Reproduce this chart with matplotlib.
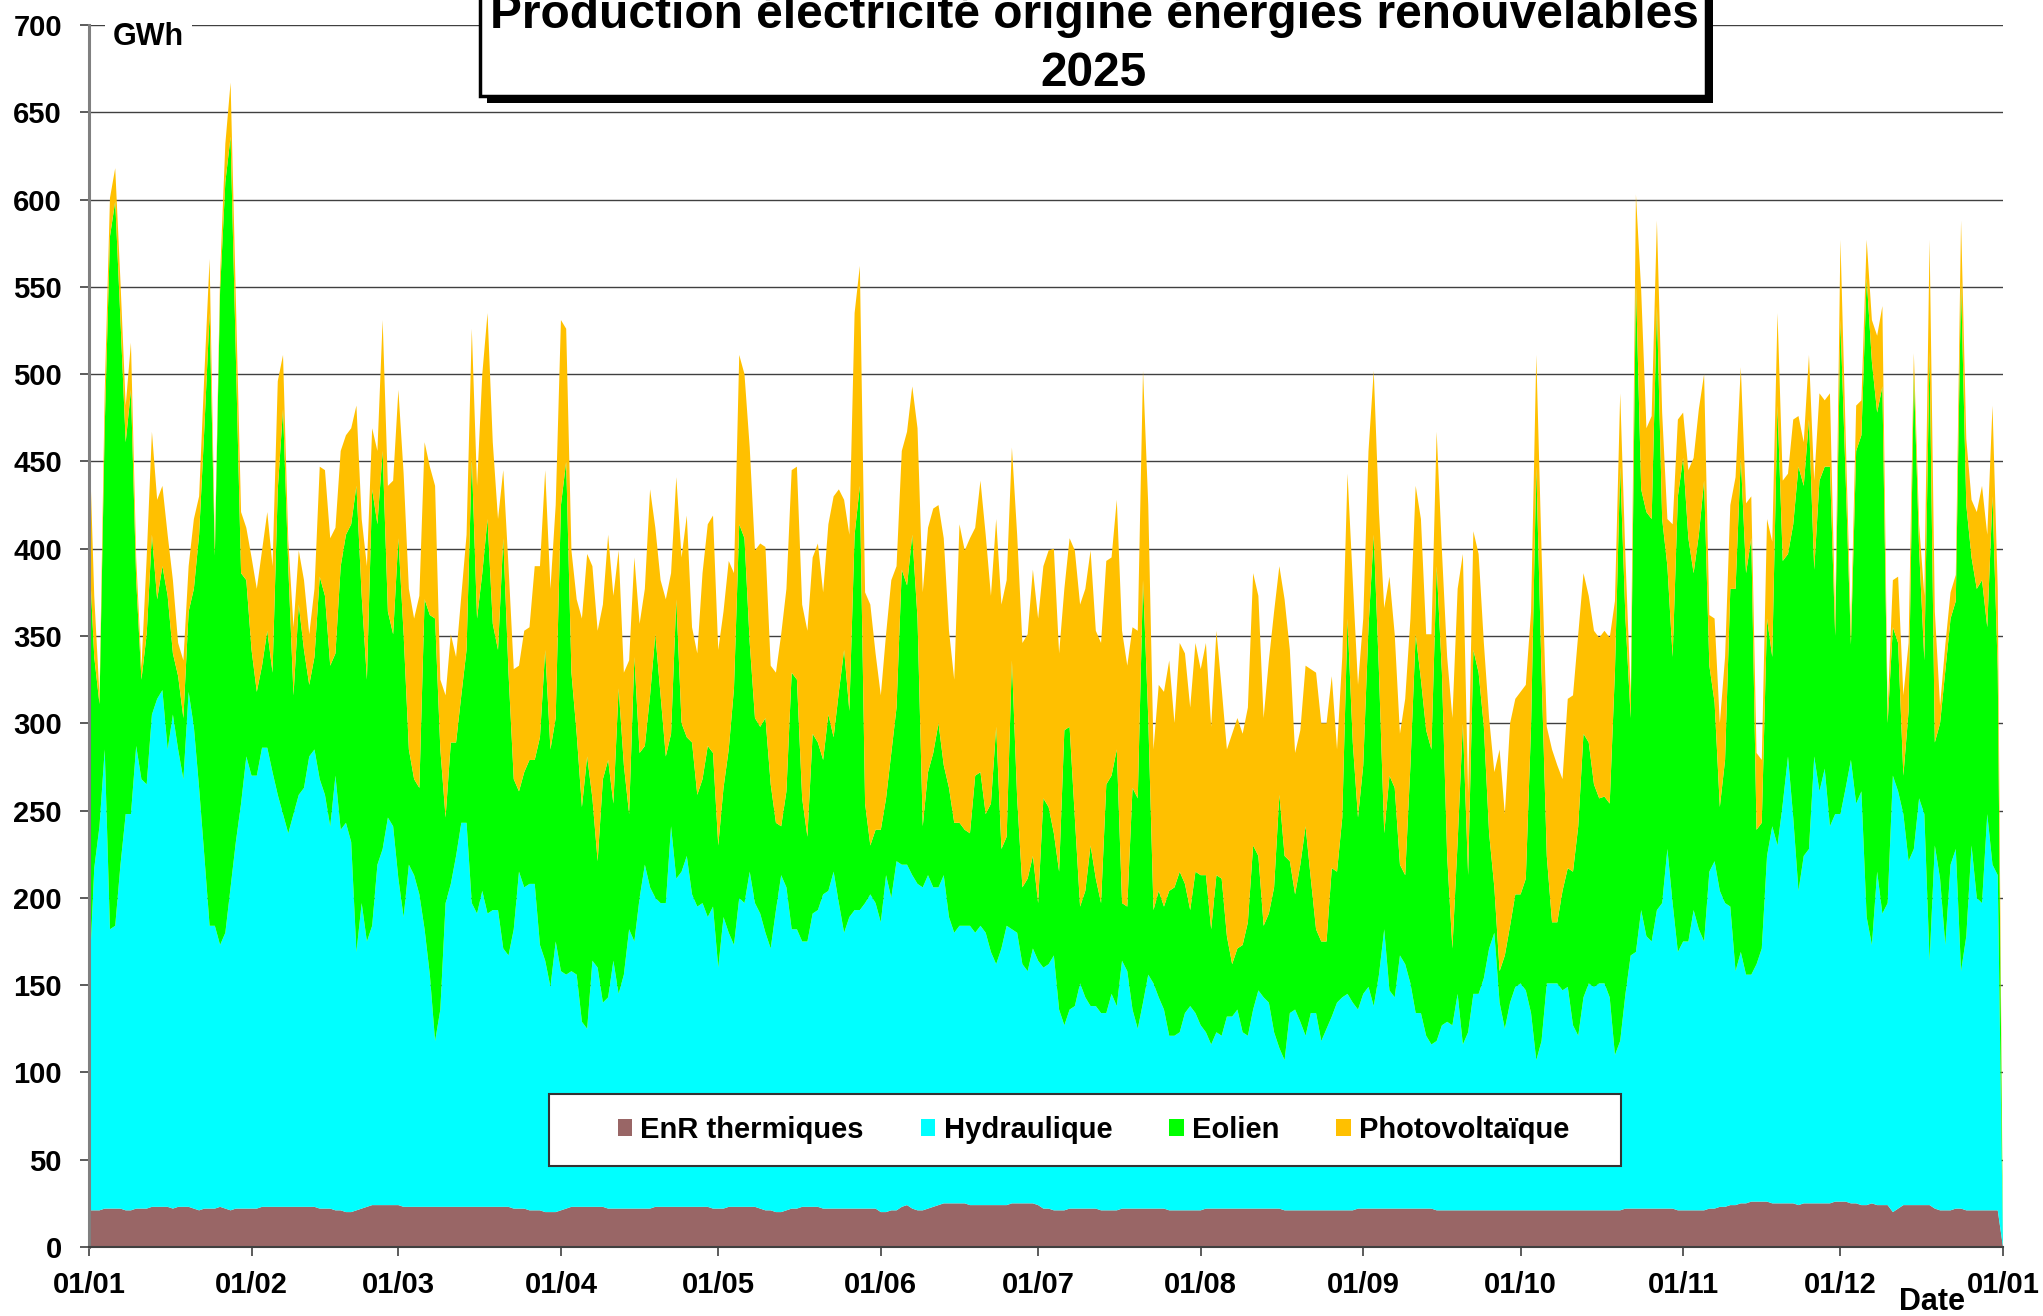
import numpy as np
import matplotlib.pyplot as plt
from matplotlib.patches import Rectangle, Patch

plt.rcParams['font.family'] = ['Liberation Sans', 'DejaVu Sans']
plt.rcParams['font.weight'] = 'bold'

# Valeurs journalières 2025 (GWh), une ligne par mois.
thermique = [
    21, 21, 21, 22, 22, 22, 22, 21, 21, 22, 22, 22, 23, 23, 23, 23, 22, 23, 23, 23, 22, 21, 22, 22, 22, 23, 22, 21, 22, 22, 22,
    22, 22, 23, 23, 23, 23, 23, 23, 23, 23, 23, 23, 23, 22, 22, 22, 21, 21, 20, 20, 21, 22, 23, 24, 24, 24, 24, 24,
    24, 23, 23, 23, 23, 23, 23, 23, 23, 23, 23, 23, 23, 23, 23, 23, 23, 23, 23, 23, 23, 23, 22, 22, 22, 21, 21, 21, 20, 20, 20,
    21, 22, 23, 23, 23, 23, 23, 23, 23, 22, 22, 22, 22, 22, 22, 22, 22, 22, 23, 23, 23, 23, 23, 23, 23, 23, 23, 23, 23, 22,
    22, 22, 23, 23, 23, 23, 23, 23, 22, 21, 21, 20, 20, 21, 22, 22, 23, 23, 23, 23, 22, 22, 22, 22, 22, 22, 22, 22, 22, 22, 22,
    20, 20, 21, 21, 23, 24, 22, 21, 21, 22, 23, 24, 25, 25, 25, 25, 25, 24, 24, 24, 24, 24, 24, 24, 24, 25, 25, 25, 25, 25,
    24, 22, 22, 21, 21, 21, 22, 22, 22, 22, 22, 22, 21, 21, 21, 21, 22, 22, 22, 22, 22, 22, 22, 22, 22, 21, 21, 21, 21, 21, 21,
    21, 22, 22, 22, 22, 22, 22, 22, 22, 22, 22, 22, 22, 22, 22, 22, 21, 21, 21, 21, 21, 21, 21, 21, 21, 21, 21, 21, 21, 21, 22,
    22, 22, 22, 22, 22, 22, 22, 22, 22, 22, 22, 22, 22, 22, 21, 21, 21, 21, 21, 21, 21, 21, 21, 21, 21, 21, 21, 21, 21, 21,
    21, 21, 21, 21, 21, 21, 21, 21, 21, 21, 21, 21, 21, 21, 21, 21, 21, 21, 21, 21, 22, 22, 22, 22, 22, 22, 22, 22, 22, 22, 21,
    21, 21, 21, 21, 21, 22, 22, 23, 23, 24, 24, 25, 25, 26, 26, 26, 26, 25, 25, 25, 25, 25, 24, 25, 25, 25, 25, 25, 25, 26,
    26, 26, 25, 25, 24, 24, 25, 24, 24, 24, 20, 22, 24, 24, 24, 24, 24, 24, 22, 21, 21, 21, 22, 22, 21, 21, 21, 21, 21, 21, 21,
]

# Les autres séries sont lues en niveaux empilés : haut de l'hydraulique,
# haut de l'éolien et total (haut du photovoltaïque).
haut_hydro = [
    150, 217, 241, 285, 182, 184, 219, 248, 248, 287, 268, 265, 305, 314, 319, 285, 305, 285, 268, 318, 298, 263, 224, 184, 184, 173, 180, 206, 232, 254, 281,
    270, 270, 286, 286, 272, 259, 248, 237, 248, 259, 263, 281, 285, 268, 259, 241, 270, 239, 243, 232, 169, 197, 175, 184, 219, 228, 246, 241,
    211, 189, 219, 213, 202, 182, 156, 118, 136, 197, 208, 224, 243, 243, 197, 191, 204, 191, 193, 193, 171, 167, 182, 215, 206, 208, 208, 173, 164, 149, 175,
    158, 156, 158, 156, 129, 125, 164, 160, 140, 143, 164, 145, 156, 182, 175, 200, 219, 206, 200, 197, 197, 241, 211, 215, 224, 202, 195, 197, 189, 195,
    160, 189, 180, 173, 200, 197, 215, 197, 191, 180, 171, 193, 213, 206, 182, 182, 175, 175, 191, 193, 202, 204, 215, 197, 180, 189, 193, 193, 197, 202, 197,
    186, 213, 200, 221, 219, 219, 213, 208, 206, 213, 206, 206, 213, 189, 180, 184, 184, 184, 180, 184, 180, 169, 162, 171, 184, 182, 180, 162, 158, 171,
    164, 160, 162, 167, 136, 127, 136, 138, 151, 143, 138, 138, 134, 134, 145, 138, 164, 158, 136, 125, 140, 156, 151, 143, 136, 121, 121, 123, 134, 138, 134,
    127, 123, 116, 123, 121, 132, 132, 136, 123, 121, 136, 147, 143, 140, 123, 114, 107, 134, 136, 129, 121, 134, 134, 118, 125, 132, 140, 143, 145, 140, 136,
    145, 149, 138, 156, 182, 147, 143, 167, 162, 151, 134, 134, 121, 116, 118, 127, 129, 127, 145, 116, 123, 145, 145, 154, 171, 180, 140, 125, 140, 149,
    151, 147, 134, 107, 118, 151, 151, 151, 147, 149, 127, 121, 143, 151, 149, 151, 151, 143, 110, 118, 145, 167, 169, 193, 178, 175, 193, 197, 228, 197, 169,
    175, 175, 193, 182, 175, 215, 221, 204, 197, 195, 158, 169, 156, 156, 162, 171, 224, 241, 230, 254, 281, 246, 204, 224, 228, 281, 261, 274, 241, 248,
    248, 263, 279, 254, 261, 189, 173, 215, 191, 197, 270, 261, 248, 221, 228, 257, 248, 164, 230, 211, 173, 219, 228, 158, 178, 230, 200, 197, 248, 219, 213,
]

haut_eolien = [
    400, 338, 311, 470, 579, 599, 531, 461, 491, 382, 325, 351, 408, 371, 390, 373, 340, 327, 303, 364, 377, 408, 469, 535, 396, 548, 610, 636, 511, 386, 382,
    342, 318, 333, 353, 329, 434, 480, 390, 316, 368, 342, 322, 338, 384, 373, 333, 340, 390, 408, 414, 436, 373, 325, 434, 414, 456, 364, 351,
    406, 351, 285, 268, 263, 371, 362, 360, 285, 246, 289, 289, 316, 342, 452, 360, 386, 417, 357, 342, 406, 329, 268, 261, 272, 279, 279, 292, 342, 285, 303,
    425, 450, 329, 294, 252, 281, 257, 221, 268, 279, 254, 320, 276, 248, 338, 283, 287, 316, 351, 316, 281, 294, 371, 300, 292, 289, 259, 268, 287, 283,
    230, 263, 285, 320, 414, 406, 346, 303, 298, 303, 265, 243, 241, 261, 329, 325, 257, 235, 294, 289, 279, 305, 292, 318, 342, 307, 408, 436, 254, 230, 239,
    239, 257, 283, 309, 388, 379, 408, 360, 241, 272, 283, 300, 276, 263, 243, 243, 239, 237, 270, 272, 248, 254, 298, 228, 235, 336, 257, 206, 211, 224,
    197, 257, 252, 237, 215, 296, 298, 246, 195, 204, 230, 211, 197, 265, 270, 285, 197, 195, 263, 257, 382, 303, 193, 204, 195, 204, 206, 215, 208, 193, 215,
    213, 213, 182, 213, 211, 178, 162, 171, 173, 186, 230, 224, 184, 191, 206, 259, 224, 221, 202, 219, 241, 211, 182, 175, 175, 217, 215, 246, 360, 289, 246,
    276, 355, 408, 329, 237, 270, 263, 219, 213, 276, 351, 325, 296, 285, 390, 329, 224, 171, 232, 300, 213, 342, 329, 298, 237, 206, 158, 167, 184, 202,
    202, 211, 298, 447, 329, 224, 186, 186, 204, 217, 215, 241, 294, 289, 265, 257, 258, 254, 330, 447, 360, 303, 553, 434, 421, 417, 539, 417, 390, 338, 430,
    452, 406, 386, 408, 439, 333, 312, 252, 279, 377, 377, 452, 386, 406, 239, 243, 360, 338, 482, 393, 397, 414, 447, 436, 474, 388, 439, 447, 447, 350,
    531, 440, 345, 456, 465, 555, 507, 478, 493, 300, 355, 346, 270, 307, 500, 400, 336, 513, 289, 300, 330, 360, 370, 553, 425, 395, 377, 382, 355, 430, 330,
]

total = [
    470, 373, 316, 490, 601, 618, 553, 482, 518, 395, 332, 395, 467, 428, 436, 408, 382, 346, 336, 390, 417, 430, 500, 566, 402, 557, 632, 667, 544, 421, 412,
    395, 377, 399, 421, 390, 496, 511, 405, 355, 399, 382, 351, 377, 447, 445, 406, 412, 456, 465, 469, 482, 417, 390, 469, 456, 531, 436, 439,
    491, 443, 377, 360, 373, 461, 447, 436, 325, 316, 351, 338, 373, 408, 526, 436, 500, 535, 461, 417, 445, 390, 331, 333, 353, 355, 390, 390, 445, 377, 425,
    531, 526, 399, 371, 360, 397, 390, 353, 368, 408, 373, 399, 329, 336, 395, 357, 377, 434, 412, 382, 371, 386, 441, 395, 419, 355, 340, 386, 414, 419,
    342, 364, 393, 386, 511, 500, 458, 399, 403, 401, 333, 329, 351, 377, 445, 447, 368, 353, 395, 403, 375, 414, 430, 434, 428, 408, 535, 562, 375, 368, 340,
    316, 351, 382, 390, 456, 467, 493, 469, 375, 412, 423, 425, 406, 353, 325, 414, 399, 406, 412, 439, 408, 373, 417, 368, 382, 458, 408, 346, 351, 388,
    360, 390, 399, 400, 340, 377, 406, 399, 368, 377, 399, 353, 346, 393, 395, 428, 353, 333, 355, 353, 502, 425, 285, 322, 318, 336, 300, 346, 340, 309, 346,
    331, 346, 298, 353, 320, 285, 294, 303, 294, 309, 386, 373, 303, 336, 364, 390, 371, 342, 283, 296, 333, 331, 329, 300, 300, 327, 285, 338, 443, 382, 322,
    360, 456, 502, 421, 366, 384, 351, 294, 314, 360, 436, 417, 351, 351, 467, 399, 338, 303, 377, 397, 260, 410, 397, 346, 303, 272, 285, 248, 300, 314,
    318, 322, 364, 511, 399, 298, 285, 276, 268, 314, 316, 351, 386, 373, 353, 349, 353, 349, 370, 489, 395, 316, 603, 548, 469, 476, 588, 478, 417, 414, 474,
    478, 445, 452, 480, 500, 362, 360, 300, 338, 425, 441, 504, 426, 430, 283, 279, 417, 404, 535, 439, 443, 474, 476, 461, 511, 439, 489, 485, 489, 360,
    577, 465, 353, 482, 485, 577, 531, 522, 539, 308, 382, 384, 316, 346, 512, 414, 373, 577, 364, 310, 345, 375, 385, 588, 463, 428, 421, 436, 408, 482, 377,
]

series = ['EnR thermiques', 'Hydraulique', 'Eolien', 'Photovoltaïque']
couleurs = ['#996666', '#00FFFF', '#00FF00', '#FFC000']
debut_mois = [0, 31, 59, 90, 120, 151, 181, 212, 243, 273, 304, 334, 365]
mois_labels = ['01/01', '01/02', '01/03', '01/04', '01/05', '01/06', '01/07',
               '01/08', '01/09', '01/10', '01/11', '01/12', '01/01']

# le 01/01 de l'année suivante n'a pas encore de données : tout retombe à 0
thermique = np.array(thermique + [0], dtype=float)
haut_hydro = np.array(haut_hydro + [0], dtype=float)
haut_eolien = np.array(haut_eolien + [0], dtype=float)
total = np.array(total + [0], dtype=float)

hydraulique = haut_hydro - thermique
eolien = haut_eolien - haut_hydro
photovoltaique = total - haut_eolien
jours = np.arange(len(total))

W, H = 2043, 1316
fig = plt.figure(figsize=(W / 100, H / 100), dpi=100)
ax = fig.add_axes([89 / W, 1 - 1247 / H, 1914 / W, 1222 / H])

ax.stackplot(jours, thermique, hydraulique, eolien, photovoltaique,
             colors=couleurs, linewidth=0, antialiased=True)

ax.set_xlim(0, 365)
ax.set_ylim(0, 700)
ax.set_yticks(range(0, 701, 50))
ax.set_xticks(debut_mois)
ax.set_xticklabels(mois_labels)
ax.set_axisbelow(True)
ax.yaxis.grid(True, color='#404040', linewidth=1.0)

for s in ['top', 'right']:
    ax.spines[s].set_visible(False)
ax.spines['left'].set_color('#808080')
ax.spines['left'].set_linewidth(2.2)
ax.spines['bottom'].set_color('#404040')
ax.spines['bottom'].set_linewidth(1.5)

ax.tick_params(axis='y', direction='out', length=6.5, width=1.2, color='#404040',
               labelsize=21, pad=13)
ax.tick_params(axis='x', direction='out', length=6.5, width=1.2, color='#404040',
               labelsize=21, pad=11)
for lab in ax.get_xticklabels() + ax.get_yticklabels():
    lab.set_fontweight('bold')

ax.text(4.6, 693, 'GWh', fontsize=22, fontweight='bold', ha='left', va='center',
        bbox=dict(facecolor='white', edgecolor='none', pad=6))

# cadre de légende
ax.add_patch(Rectangle((460 / 1914, 81 / 1222), 1072 / 1914, 72 / 1222,
                       transform=ax.transAxes, facecolor='white',
                       edgecolor='#333333', linewidth=1.5, zorder=5))
poignees = [Patch(facecolor=c, edgecolor='none', label=l) for c, l in zip(couleurs, series)]
leg = ax.legend(handles=poignees, ncol=4, loc='center',
                bbox_to_anchor=(1004.5 / 1914, 117 / 1222), frameon=False,
                prop={'size': 21, 'weight': 'bold'}, handlelength=0.5,
                handleheight=0.5, handletextpad=0.28, columnspacing=1.95)
leg.set_zorder(6)

# titre dans un cadre avec ombre
fig.patches.append(Rectangle((487 / W, 1 - 103 / H), 1226 / W, 130 / H,
                             transform=fig.transFigure, facecolor='black',
                             edgecolor='none', zorder=1))
fig.patches.append(Rectangle((480 / W, 1 - 96 / H), 1226 / W, 130 / H,
                             transform=fig.transFigure, facecolor='white',
                             edgecolor='black', linewidth=2.5, zorder=2))
fig.text(1094 / W, 1 - 28 / H, 'Production électricité origine énergies renouvelables',
         fontsize=34.5, fontweight='bold', ha='center', va='baseline', zorder=3)
fig.text(1094 / W, 1 - 86 / H, '2025', fontsize=34.5, fontweight='bold',
         ha='center', va='baseline', zorder=3)

fig.text(1932 / W, 1 - 1302 / H, 'Date', fontsize=22, fontweight='bold',
         ha='center', va='center')

fig.savefig('out.png', dpi=100)
